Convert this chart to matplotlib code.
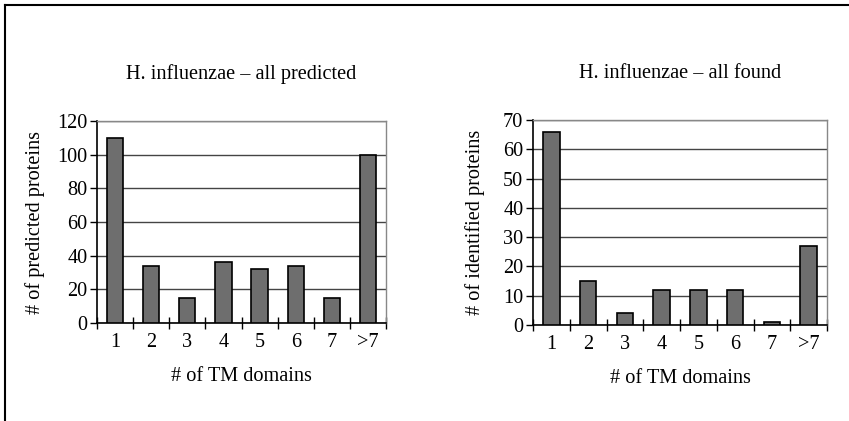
import numpy as np
import matplotlib.pyplot as plt
from matplotlib.lines import Line2D

plt.rcParams['font.family'] = ['Liberation Serif', 'DejaVu Serif']

categories = ['1', '2', '3', '4', '5', '6', '7', '>7']
predicted = [110, 34, 15, 36, 32, 34, 15, 100]
found = [66, 15, 4, 12, 12, 12, 1, 27]

FS = 14.6


def draw_panel(ax, values, ymax, ystep, title, ylabel, ypad):
    x = np.arange(len(categories))
    ax.set_axisbelow(True)
    ax.yaxis.grid(True, color='#444444', linewidth=1.0)
    ax.bar(x, values, width=0.45, color='#6e6e6e', edgecolor='black', linewidth=1.2, zorder=3)
    ax.set_xlim(-0.5, len(categories) - 0.5)
    ax.set_ylim(0, ymax)
    ax.set_yticks(np.arange(0, ymax + 1, ystep))
    ax.set_xticks(x)
    ax.set_xticklabels(categories)
    ax.set_xticks(np.arange(-0.5, len(categories)), minor=True)
    ax.tick_params(axis='x', which='major', length=0, labelsize=FS, pad=7)
    ax.tick_params(axis='x', which='minor', direction='inout', length=8, width=1.0)
    ax.tick_params(axis='y', direction='out', length=5, width=1.0, labelsize=FS, pad=2)
    for side in ['top', 'right']:
        ax.spines[side].set_color('#888888')
        ax.spines[side].set_linewidth(1.0)
    for side in ['left', 'bottom']:
        ax.spines[side].set_color('black')
        ax.spines[side].set_linewidth(1.2)
    ax.set_title(title, fontsize=FS, pad=30)
    ax.set_ylabel(ylabel, fontsize=FS, labelpad=ypad)
    ax.set_xlabel('# of TM domains', fontsize=FS, labelpad=11)


fig = plt.figure(figsize=(8.49, 4.21), dpi=100)
ax1 = fig.add_axes([97 / 849, 1 - 323 / 421, 289 / 849, 202 / 421])
ax2 = fig.add_axes([533 / 849, 1 - 325 / 421, 294 / 849, 205 / 421])

draw_panel(ax1, predicted, 120, 20, 'H. influenzae \u2013 all predicted', '# of predicted proteins', 9)
draw_panel(ax2, found, 70, 10, 'H. influenzae \u2013 all found', '# of identified proteins', 13)

# frame lines along the top and left edges of the page
fig.add_artist(Line2D([5 / 849, 5 / 849], [0, 1 - 5 / 421], transform=fig.transFigure, color='black', linewidth=1.5))
fig.add_artist(Line2D([5 / 849, 1], [1 - 5 / 421, 1 - 5 / 421], transform=fig.transFigure, color='black', linewidth=1.5))

fig.savefig('out.png', dpi=100)
